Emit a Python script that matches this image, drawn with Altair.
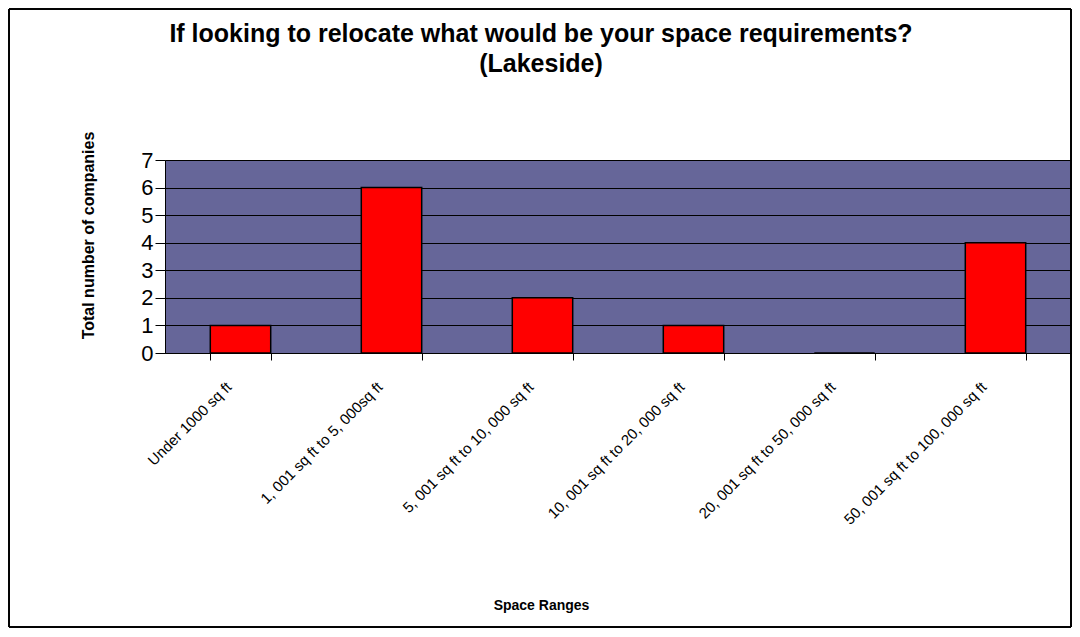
import altair as alt
import pandas as pd

categories = [
    "Under 1000 sq ft",
    "1, 001 sq ft to 5, 000sq ft",
    "5, 001 sq ft to 10, 000 sq ft",
    "10, 001 sq ft to 20, 000 sq ft",
    "20, 001 sq ft to 50, 000 sq ft",
    "50, 001 sq ft to 100, 000 sq ft",
]
counts = [1, 6, 2, 1, 0, 4]
y_ticks = [0, 1, 2, 3, 4, 5, 6, 7]

df = pd.DataFrame({"range": categories, "count": counts})
FONT = "Liberation Sans, Arial"

W, H = 906, 193
PAD_L, PAD_T, PAD_B = 157, 152, 276

bars = alt.Chart(df).mark_bar(color="#FF0000", stroke="#000000", strokeWidth=1.5).encode(
    x=alt.X(
        "range:N",
        sort=categories,
        scale=alt.Scale(paddingInner=0.6, paddingOuter=0.3),
        axis=alt.Axis(
            title="Space Ranges",
            titleFont=FONT, titleFontSize=14, titleFontWeight="bold", titleColor="#000",
            titleX=376, titleY=252, titleBaseline="middle",
            labelAngle=-45, labelAlign="right", labelBaseline="middle",
            labelFont=FONT, labelFontSize=15, labelColor="#000",
            labelPadding=24, labelOffset=-12,
            ticks=True, tickBand="extent", tickSize=7,
            tickColor="#000", domainColor="#000",
            labelLimit=400,
        ),
    ),
    y=alt.Y(
        "count:Q",
        scale=alt.Scale(domain=[0, 7], nice=False),
        axis=alt.Axis(
            title="Total number of companies",
            titleFont=FONT, titleFontSize=16, titleFontWeight="bold", titleColor="#000",
            titleX=-77, titleY=75, titleAlign="center", titleBaseline="middle",
            values=y_ticks, format="d",
            labelFont=FONT, labelFontSize=22, labelColor="#000",
            labelPadding=2, tickSize=10, tickColor="#000",
            grid=True, gridColor="#000", gridWidth=1,
            domainColor="#000",
        ),
    ),
)

border = alt.Chart(df).mark_rect(fill="transparent", stroke="#000", strokeWidth=1).encode(
    x=alt.value(-PAD_L + 1), x2=alt.value(W),
    y=alt.value(-PAD_T + 1), y2=alt.value(H + PAD_B - 2),
)

chart = (
    alt.layer(border, bars)
    .properties(
        width=W,
        height=H,
        autosize=alt.AutoSizeParams(type="none"),
        padding={"left": PAD_L, "top": PAD_T, "right": 1, "bottom": PAD_B},
        view=alt.ViewBackground(fill="#666699", stroke="#888"),
        title=alt.TitleParams(
            text=["If looking to relocate what would be your space requirements?", "(Lakeside)"],
            font=FONT, fontSize=25, fontWeight="bold", color="#000",
            anchor="middle", dx=-77, offset=-68, lineHeight=30,
        ),
    )
    .configure(background="white")
)

chart.save("out.html", embed_options={"renderer": "svg", "actions": False})
